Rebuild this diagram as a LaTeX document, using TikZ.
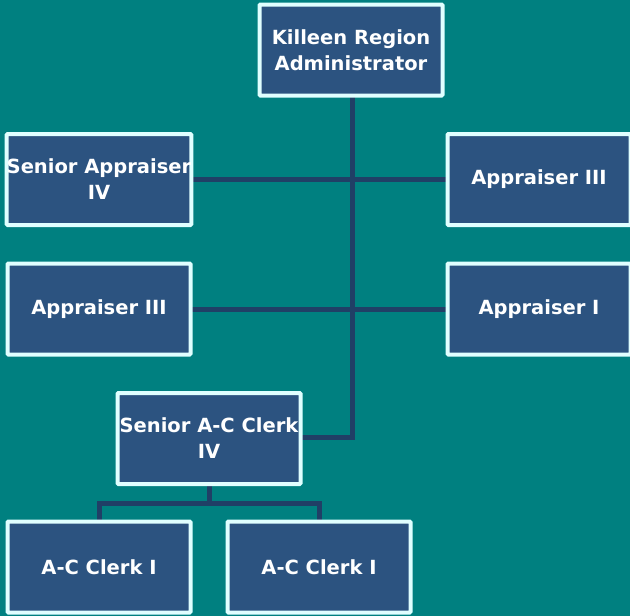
\documentclass[tikz,border=0pt]{standalone}
\usepackage{fontspec}
\setmainfont{DejaVu Sans}
\usetikzlibrary{backgrounds}
\definecolor{bgteal}{HTML}{008080}
\definecolor{boxfill}{HTML}{2C5380}
\definecolor{boxedge}{HTML}{E0FFFF}
\definecolor{linkcol}{HTML}{203F66}
\begin{document}
\begin{tikzpicture}[x=1pt,y=-1pt,
  orgbox/.style={draw=boxedge, line width=4pt, fill=boxfill, rounded corners=1pt,
    minimum width=183pt, minimum height=91pt, inner sep=0pt, outer sep=0pt,
    text=white, align=center, font=\fontsize{19.5}{26}\selectfont\bfseries},
  link/.style={draw=linkcol, line width=5pt}]
\useasboundingbox (0,0) rectangle (630,616);
% nodes
\node[orgbox] (top) at (351,50) {Killeen Region\\Administrator};
\node[orgbox] (sa4) at (99,179.5) {Senior Appraiser\\IV};
\node[orgbox] (ap3r) at (539,179.5) {Appraiser III};
\node[orgbox] (ap3l) at (99,309) {Appraiser III};
\node[orgbox] (ap1) at (539,309) {Appraiser I};
\node[orgbox] (sac) at (209,438.5) {Senior A-C Clerk\\IV};
\node[orgbox] (ac1) at (99,567) {A-C Clerk I};
\node[orgbox] (ac2) at (319,567) {A-C Clerk I};
\coordinate (trunkend) at (352,437.5);
\coordinate (split) at (209,503);
% connectors behind boxes
\begin{scope}[on background layer]
\fill[bgteal] (0,0) rectangle (630,616);
\draw[link] (top.south -| trunkend) -- (trunkend) -- (sac.east |- trunkend);
\draw[link] (sa4.east) -- (ap3r.west);
\draw[link] (ap3l.east) -- (ap1.west);
\draw[link] (sac.south) -- (split);
\draw[link] (ac1.north) -- (ac1.north |- split) -- (ac2.north |- split) -- (ac2.north);
\end{scope}
\end{tikzpicture}
\end{document}
